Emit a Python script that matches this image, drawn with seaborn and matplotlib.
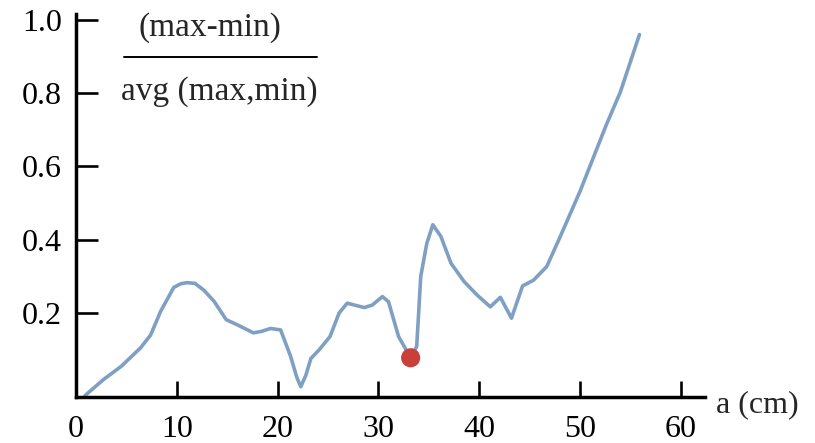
import matplotlib
matplotlib.use("Agg")
import matplotlib.pyplot as plt
from matplotlib.lines import Line2D
import seaborn as sns

# Relative spread (max-min)/avg(max,min) against distance a
a_cm = [0.9, 2.7, 4.5, 6.4, 7.4, 8.4, 9.7, 10.4, 11.0, 11.8, 12.7, 13.7,
        14.9, 16.0, 17.6, 18.4, 19.3, 20.3, 21.3, 21.9, 22.3, 22.8, 23.3,
        24.1, 25.2, 26.1, 26.9, 27.6, 28.6, 29.4, 30.4, 31.0, 32.0, 33.2,
        33.8, 34.2, 34.8, 35.4, 36.2, 37.2, 38.5, 39.8, 41.1, 42.1, 43.2,
        44.3, 45.4, 46.7, 47.9, 50.0, 52.6, 54.0, 55.9]
ratio = [-0.025, 0.018, 0.055, 0.105, 0.14, 0.205, 0.27, 0.28, 0.283, 0.281,
         0.262, 0.232, 0.182, 0.168, 0.146, 0.15, 0.158, 0.154, 0.081, 0.025,
         -0.001, 0.03, 0.076, 0.099, 0.136, 0.2, 0.227, 0.222, 0.215, 0.222,
         0.245, 0.231, 0.136, 0.078, 0.109, 0.3, 0.39, 0.441, 0.409, 0.336,
         0.286, 0.249, 0.217, 0.243, 0.186, 0.274, 0.29, 0.327, 0.4, 0.532,
         0.713, 0.803, 0.96]

# Highlighted minimum
min_a = [33.2]
min_ratio = [0.078]

x_ticks = [0, 10, 20, 30, 40, 50, 60]
y_ticks = [0.2, 0.4, 0.6, 0.8, 1.0]
y_tick_labels = ["0.2", "0.4", "0.6", "0.8", "1.0"]

sns.set_style("white")
plt.rcParams["font.family"] = ["Liberation Serif", "DejaVu Serif"]

fig = plt.figure(figsize=(8.15, 4.43), dpi=100)
ax = fig.add_axes([76 / 815, 1 - 397 / 443, (705 - 76) / 815, (397 - 14) / 443])

sns.lineplot(x=a_cm, y=ratio, sort=False, estimator=None, ax=ax,
             color="#7fa0c3", linewidth=2.6, solid_joinstyle="round",
             solid_capstyle="round")
sns.scatterplot(x=min_a, y=min_ratio, ax=ax, color="#c9403b", s=190,
                edgecolor="none", zorder=5)

ax.set_xlim(0, 62.4)
ax.set_ylim(-0.029, 1.016)
ax.set_xticks(x_ticks)
ax.set_xticklabels([str(t) for t in x_ticks])
ax.set_yticks(y_ticks)
ax.set_yticklabels(y_tick_labels)

for side in ("top", "right"):
    ax.spines[side].set_visible(False)
for side in ("left", "bottom"):
    ax.spines[side].set_color("black")
    ax.spines[side].set_linewidth(2.5)

ax.tick_params(axis="x", bottom=True, direction="in", length=11.5, width=1.9,
               colors="black", labelsize=23, pad=13)
ax.tick_params(axis="y", left=True, direction="in", length=16, width=1.9,
               colors="black", labelsize=23, pad=10)
ax.set_xlabel("")
ax.set_ylabel("")

# Fraction-style y label in the upper left corner
fig.text(210 / 815, 1 - 36 / 443, "(max-min)", ha="center", va="baseline",
         fontsize=24)
fig.add_artist(Line2D([124 / 815, 317 / 815], [1 - 57 / 443, 1 - 57 / 443],
                      transform=fig.transFigure, color="black", linewidth=1.4))
fig.text(219.5 / 815, 1 - 100 / 443, "avg (max,min)", ha="center",
         va="baseline", fontsize=24)

# Axis title at the end of the x axis
fig.text(716 / 815, 1 - 412 / 443, "a (cm)", ha="left", va="baseline",
         fontsize=23)

fig.savefig("out.png", dpi=100, facecolor="white")
